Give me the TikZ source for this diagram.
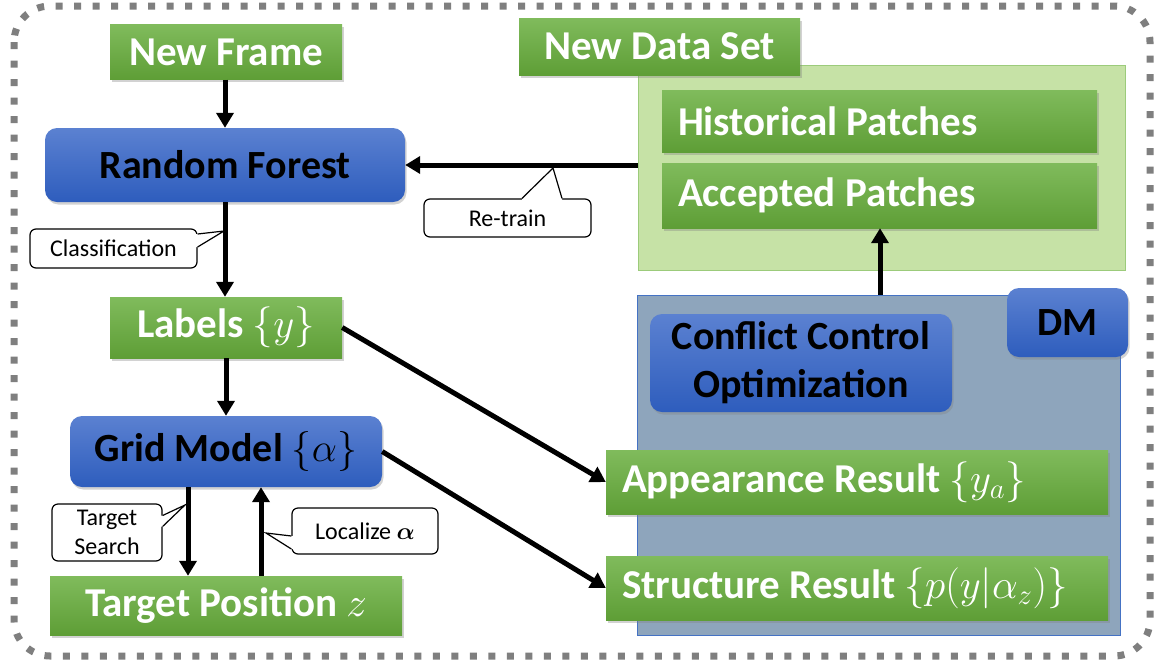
\RequirePackage{fix-cm}
\documentclass[tikz,border=0pt]{standalone}
\usepackage{fontspec}
\setmainfont{Carlito}
\usetikzlibrary{arrows.meta,shadows,calc}
\definecolor{gtop}{HTML}{80BB5C}
\definecolor{gbot}{HTML}{5E9E36}
\definecolor{btop}{HTML}{5B81D1}
\definecolor{bbot}{HTML}{2E5DBD}
\definecolor{dmfill}{HTML}{8EA5BC}
\definecolor{dmline}{HTML}{4472C4}
\definecolor{lgfill}{HTML}{C6E2A6}
\definecolor{lgline}{HTML}{9CCB7B}
\definecolor{dashgray}{HTML}{7F7F7F}
\newcommand{\natsp}[1]{{\spaceskip=0pt\xspaceskip=0pt #1}}
\begin{document}
\begin{tikzpicture}[x=1pt,y=-1pt,
  greenbox/.style={rectangle, inner sep=0pt, top color=gtop, bottom color=gbot, text=white,
     font=\bfseries\fontsize{41}{46}\selectfont,
     drop shadow={shadow xshift=1.5pt,shadow yshift=-2.5pt,opacity=0.35}},
  leftgreen/.style={greenbox, align=left, inner xsep=16pt},
  bluebox/.style={rectangle, rounded corners=12pt, inner sep=0pt, top color=btop, bottom color=bbot, text=black,
     font=\bfseries\fontsize{40}{48}\selectfont, align=center,
     drop shadow={shadow xshift=1.5pt,shadow yshift=-2.5pt,opacity=0.35}},
  callbox/.style={rectangle, rounded corners=6pt, draw=black, line width=1.2pt, fill=white,
     font=\fontsize{24}{29}\selectfont, inner sep=0pt, align=center},
  arr/.style={line width=5pt, -{Triangle[length=15pt,width=17pt]}},
]
\useasboundingbox (0,0) rectangle (1162,665);
\fill[white] (0,0) rectangle (1162,665);

% outer dashed frame
\draw[dashgray, line width=7pt, dash pattern=on 7pt off 11.5pt, rounded corners=36pt]
  (14,6) rectangle (1150,656);

% containers
\node[rectangle, draw=lgline, line width=1pt, fill=lgfill, inner sep=0pt,
  minimum width=487pt, minimum height=205pt] (nds) at (881.5,167.5) {};
\node[rectangle, draw=dmline, line width=1pt, fill=dmfill, inner sep=0pt,
  minimum width=483pt, minimum height=340pt] (dm) at (878.5,465) {};

% green boxes
\node[greenbox, minimum width=232pt, minimum height=55pt] (nf) at (226,52) {New Frame};
\node[greenbox, minimum width=281pt, minimum height=57pt] (ndslbl) at (659.5,46.5) {New Data Set};
\node[leftgreen, text width=403pt, minimum height=62pt] (hp) at (879.5,121) {\natsp{Historical Patches}};
\node[leftgreen, text width=403pt, minimum height=65pt] (ap) at (879.5,195.5) {\natsp{Accepted Patches}};
\node[greenbox, minimum width=232pt, minimum height=61pt] (lab) at (226,327.5) {Labels $\{y\}$};
\node[greenbox, minimum width=352pt, minimum height=59pt] (tp) at (226,605.5) {Target Position $z$};
\node[leftgreen, text width=470pt, minimum height=64pt] (app) at (857,482) {\natsp{Appearance Result $\{y_a\}$}};
\node[leftgreen, text width=470pt, minimum height=64pt] (str) at (857,588) {\natsp{Structure Result $\{p(y|\alpha_z)\}$}};

% blue boxes
\node[bluebox, minimum width=360pt, minimum height=74pt] (rf) at (225,165) {Random Forest};
\node[bluebox, minimum width=312pt, minimum height=71pt] (grid) at (226,451.5) {Grid Model $\{\alpha\}$};
\node[bluebox, minimum width=302pt, minimum height=98pt] (cco) at (801,363) {\natsp{Conflict Control}\\Optimization};
\node[bluebox, minimum width=121pt, minimum height=69pt] (dmlbl) at (1067.5,322.5) {DM};

% connectors
\draw[arr] (nf.south -| rf.north) -- (rf.north);
\draw[arr] (rf.south) -- (rf.south |- lab.north);
\draw[arr] (lab.south) -- (lab.south |- grid.north);
\draw[arr] (nds.west |- rf.east) -- (rf.east);
\draw[arr] (lab.east) -- (app.west);
\draw[arr] (grid.east) -- (str.west);
\draw[arr] ($(grid.south)+(-38,0)$) -- ($(tp.north)+(-38,0)$);
\draw[arr] ($(tp.north)+(35,0)$) -- ($(grid.south)+(35,0)$);
\draw[arr] (dm.north -| 880,0) -- (ap.south -| 880,0);

% callouts
\node[callbox, minimum width=167pt, minimum height=39pt] (cls) at (113.5,248.5) {Classification};
\coordinate (clsTip) at (224,231);
\path[fill=white] ($(cls.east)+(0,-14.5)$) -- (clsTip) -- ($(cls.east)+(0,-1.5)$) -- ($(cls.east)+(-3,-1.5)$) -- ($(cls.east)+(-3,-14.5)$) -- cycle;
\draw[line width=1.2pt] ($(cls.east)+(0,-14.5)$) -- (clsTip) -- ($(cls.east)+(0,-1.5)$);

\node[callbox, minimum width=167pt, minimum height=38pt] (rt) at (507.5,218) {Re-train};
\coordinate (rtTip) at (553,168);
\path[fill=white] ($(rt.north)+(14.5,0)$) -- (rtTip) -- ($(rt.north)+(54.5,0)$) -- ($(rt.north)+(54.5,3)$) -- ($(rt.north)+(14.5,3)$) -- cycle;
\draw[line width=1.2pt] ($(rt.north)+(14.5,0)$) -- (rtTip) -- ($(rt.north)+(54.5,0)$);

\node[callbox, minimum width=110pt, minimum height=57pt] (ts) at (107,532.5) {Target\\Search};
\coordinate (tsTip) at (185,505);
\path[fill=white] ($(ts.east)+(0,-17)$) -- (tsTip) -- ($(ts.east)+(0,-6)$) -- ($(ts.east)+(-3,-6)$) -- ($(ts.east)+(-3,-17)$) -- cycle;
\draw[line width=1.2pt] ($(ts.east)+(0,-17)$) -- (tsTip) -- ($(ts.east)+(0,-6)$);

\node[callbox, minimum width=146pt, minimum height=46pt] (loc) at (365,531) {\natsp{Localize {\boldmath$\alpha$}}};
\coordinate (locTip) at (266,533);
\path[fill=white] ($(loc.west)+(0,5)$) -- (locTip) -- ($(loc.west)+(0,18)$) -- ($(loc.west)+(3,18)$) -- ($(loc.west)+(3,5)$) -- cycle;
\draw[line width=1.2pt] ($(loc.west)+(0,5)$) -- (locTip) -- ($(loc.west)+(0,18)$);
\end{tikzpicture}
\end{document}
